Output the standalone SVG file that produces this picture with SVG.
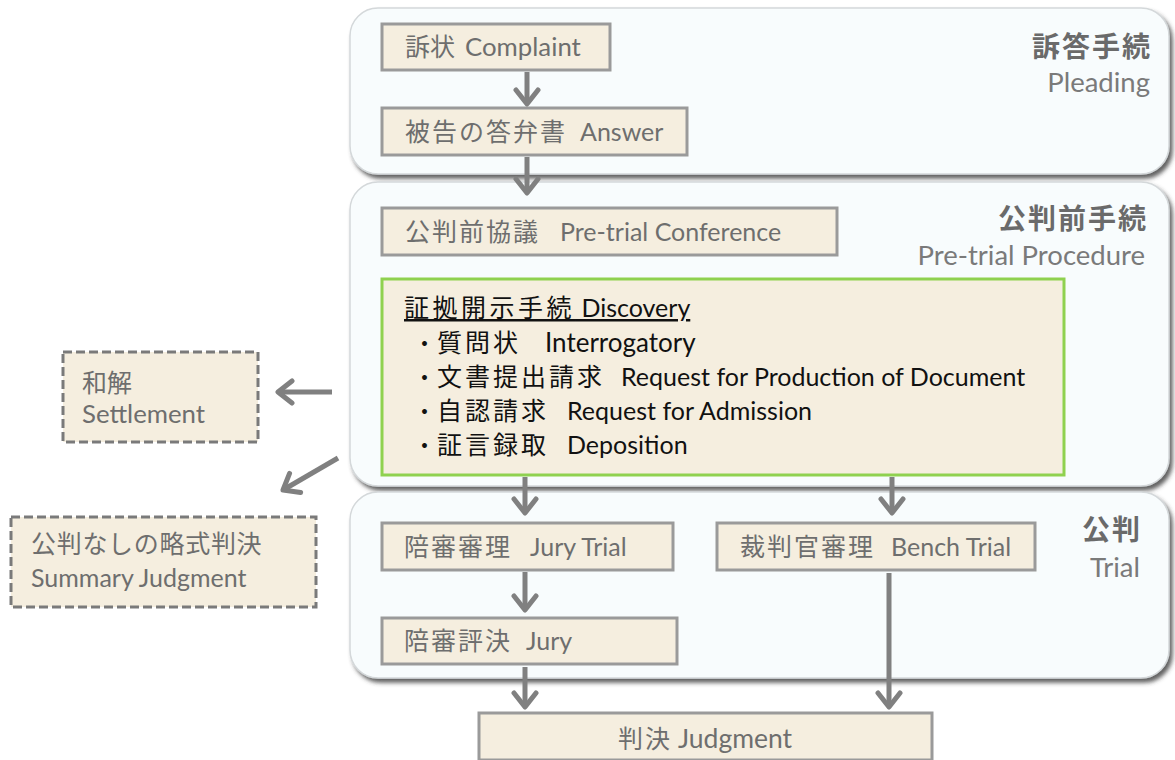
<svg xmlns="http://www.w3.org/2000/svg" width="1175" height="760" viewBox="0 0 1175 760">
<defs>
<filter id="sh" x="-5%" y="-10%" width="112%" height="125%">
<feDropShadow dx="3" dy="4" stdDeviation="2" flood-color="#3a3a3a" flood-opacity="0.8"/>
</filter>
<marker id="arr" viewBox="-18 -14 22 28" refX="0" refY="0" markerWidth="22" markerHeight="28" markerUnits="userSpaceOnUse" orient="auto">
<path d="M-14,-11 L0,0 L-14,11" fill="none" stroke="#808080" stroke-width="5" stroke-linecap="round" stroke-linejoin="round"/>
</marker>
</defs>
<style>
.panel{fill:#f8fcfd;stroke:#d4d8da;stroke-width:1.5;filter:url(#sh)}
.box{fill:#f5eedf;stroke:#9a9a9a;stroke-width:3}
.dbox{fill:#f5eedf;stroke:#7a7a7a;stroke-width:3;stroke-dasharray:9 4}
.disc{fill:#f5eedf;stroke:#8fd14f;stroke-width:3}
text{font-family:Lato,"Noto Sans CJK JP",sans-serif}
.cj{font-family:"Noto Sans CJK JP",sans-serif;letter-spacing:2px}
.t{font-size:25px;fill:#6e6e6e}
.k{font-size:25px;fill:#111}
.k .cj{letter-spacing:3px}
.k .dot{letter-spacing:0}
.hj{font-family:"Noto Sans CJK JP",sans-serif;font-size:28px;font-weight:bold;fill:#6a6a6a;text-anchor:end;letter-spacing:2px}
.he{font-size:27.5px;fill:#7a7a7a;text-anchor:end}
.c{fill:none;stroke:#808080;stroke-width:5;marker-end:url(#arr)}
</style>
<rect width="1175" height="760" fill="#ffffff"/>

<g id="panel-pleading">
<rect class="panel" x="350" y="8" width="819" height="166" rx="28"/>
<text class="hj" x="1152" y="57">訴答手続</text>
<text class="he" x="1150" y="92">Pleading</text>
</g>
<g id="panel-pretrial">
<rect class="panel" x="350" y="182" width="819" height="304" rx="28"/>
<text class="hj" x="1148" y="229">公判前手続</text>
<text class="he" x="1145" y="265">Pre-trial Procedure</text>
</g>
<g id="panel-trial">
<rect class="panel" x="350" y="492" width="819" height="186" rx="28"/>
<text class="hj" x="1142" y="540">公判</text>
<text class="he" x="1140" y="577">Trial</text>
</g>

<g id="complaint">
<rect class="box" x="382" y="24" width="228" height="46"/>
<text class="t" x="405" y="56"><tspan class="cj" style="letter-spacing:0">訴状 </tspan><tspan x="465" style="font-size:25.8px">Complaint</tspan></text>
</g>
<g id="answer">
<rect class="box" x="382" y="108" width="305" height="47"/>
<text class="t" x="405" y="141"><tspan class="cj">被告の答弁書 </tspan><tspan x="580">Answer</tspan></text>
</g>
<g id="pretrial-conference">
<rect class="box" x="382" y="208" width="455" height="47"/>
<text class="t" x="405" y="241"><tspan class="cj">公判前協議 </tspan><tspan x="560">Pre-trial Conference</tspan></text>
</g>
<g id="discovery">
<rect class="disc" x="382" y="279" width="682" height="196"/>
<text class="k" x="404" y="317" text-decoration="underline"><tspan class="cj" style="letter-spacing:3.5px">証拠開示手続</tspan><tspan> Discovery</tspan></text>
<text class="k" x="413" y="352"><tspan class="cj dot" style="font-size:23px">・</tspan><tspan class="cj" x="437">質問状　</tspan><tspan x="545" style="font-size:26px">Interrogatory</tspan></text>
<text class="k" x="413" y="386"><tspan class="cj dot" style="font-size:23px">・</tspan><tspan class="cj" x="437">文書提出請求　</tspan><tspan x="621">Request for Production of Document</tspan></text>
<text class="k" x="413" y="420"><tspan class="cj dot" style="font-size:23px">・</tspan><tspan class="cj" x="437">自認請求　</tspan><tspan x="567">Request for Admission</tspan></text>
<text class="k" x="413" y="454"><tspan class="cj dot" style="font-size:23px">・</tspan><tspan class="cj" x="437">証言録取　</tspan><tspan x="567">Deposition</tspan></text>
</g>
<g id="settlement">
<rect class="dbox" x="63" y="352" width="195" height="90"/>
<text class="t" x="82" y="392"><tspan class="cj" style="letter-spacing:0">和解</tspan></text>
<text class="t" x="82" y="423" style="font-size:25.8px">Settlement</text>
</g>
<g id="summary-judgment">
<rect class="dbox" x="11" y="517" width="305" height="90"/>
<text class="t" x="31" y="553"><tspan class="cj" style="letter-spacing:0.7px">公判なしの略式判決</tspan></text>
<text class="t" x="31" y="587">Summary Judgment</text>
</g>
<g id="jury-trial">
<rect class="box" x="382" y="523" width="291" height="47"/>
<text class="t" x="404" y="556"><tspan class="cj">陪審審理　</tspan><tspan x="530">Jury Trial</tspan></text>
</g>
<g id="bench-trial">
<rect class="box" x="717" y="523" width="318" height="47"/>
<text class="t" x="740" y="556"><tspan class="cj">裁判官審理 </tspan><tspan x="891">Bench Trial</tspan></text>
</g>
<g id="jury">
<rect class="box" x="382" y="618" width="295" height="46"/>
<text class="t" x="404" y="650"><tspan class="cj">陪審評決 </tspan><tspan x="526">Jury</tspan></text>
</g>
<g id="judgment">
<rect class="box" x="479" y="713" width="453" height="47"/>
<text class="t" x="618" y="748"><tspan class="cj">判決  </tspan><tspan x="678" style="font-size:26.5px">Judgment</tspan></text>
</g>

<g id="connectors">
<path class="c" d="M527,72 V104"/>
<path class="c" d="M527,157 V193"/>
<path class="c" d="M332,392 H278"/>
<path class="c" d="M338,458 L283,490"/>
<path class="c" d="M525,477 V513"/>
<path class="c" d="M892,477 V513"/>
<path class="c" d="M525,572 V610"/>
<path class="c" d="M525,667 V707"/>
<path class="c" d="M889,573 V707"/>
</g>
</svg>
